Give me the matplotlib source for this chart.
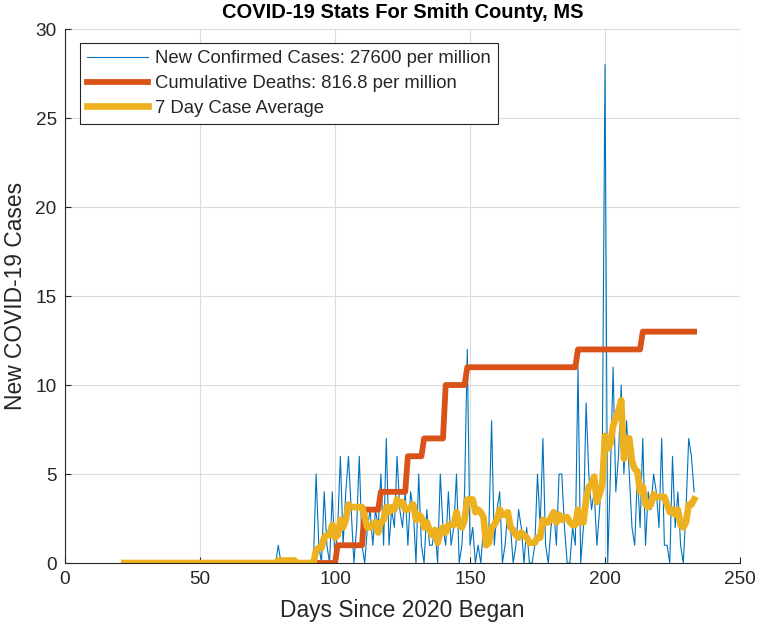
import numpy as np
import pandas as pd
import matplotlib
matplotlib.use('Agg')
import matplotlib.pyplot as plt

####################################################################################################
# DATA
####################################################################################################

first_day = 22

# daily new cases, one value per day from first_day on
new_cases = ([0] * 57 + [1] + [0] * 13 +
             [5, 1, 0, 4, 1, 0, 4, 0, 2, 6,          # days 93-102
              1, 4, 6, 3, 0, 2, 6, 1, 0, 2,          # 103-112
              3, 1, 3, 2, 5, 1, 7, 1, 3, 2,          # 113-122
              6, 3, 2, 4, 1, 4, 3, 0, 5, 1,          # 123-132
              0, 3, 1, 1, 2, 0, 5, 2, 1, 4,          # 133-142
              1, 2, 5, 0, 1, 4, 12, 1, 2, 0,         # 143-152
              1, 0, 2, 1, 2, 8, 1, 3, 4, 0,          # 153-162
              1, 3, 2, 0, 1, 3, 2, 0, 2, 0,          # 163-172
              0, 1, 5, 2, 7, 1, 0, 2, 3, 1,          # 173-182
              5, 5, 2, 0, 0, 2, 1, 11, 0, 2,         # 183-192
              9, 5, 3, 4, 1, 3, 6, 28, 0, 5,         # 193-202
              11, 4, 6, 10, 5, 8, 5, 2, 1, 5,        # 203-212
              2, 7, 1, 4, 3, 5, 4, 2, 7, 1,          # 213-222
              1, 0, 6, 2, 4, 1, 0, 3, 7, 6,          # 223-232
              4])                                    # 233

# cumulative deaths: day the total changes, and the new total
death_days = [101, 111, 117, 127, 133, 141, 149, 190, 214]
death_totals = [1, 3, 4, 6, 7, 10, 11, 12, 13]

cases_per_million = 27600
deaths_per_million = 816.8

####################################################################################################

days = np.arange(first_day, first_day + len(new_cases))
cases = pd.Series(new_cases, index=days, dtype=float)
average = cases.rolling(7, min_periods=1).mean()

deaths = np.zeros(len(days))
for d, total in zip(death_days, death_totals):
    deaths[days >= d] = total

plt.rcParams['font.family'] = ['Liberation Sans', 'DejaVu Sans']
text_color = '#262626'

fig = plt.figure(figsize=(7.61, 6.30), dpi=100)
ax = fig.add_axes([0.0854, 0.1063, 0.8870, 0.8476])

ax.plot(days, cases.values, color='#0072BD', linewidth=0.8,
        label='New Confirmed Cases: %d per million' % cases_per_million)
ax.plot(days, deaths, color='#D95319', linewidth=4.2,
        label='Cumulative Deaths: %.1f per million' % deaths_per_million)
ax.plot(days, average.values, color='#EDB120', linewidth=4.8,
        label='7 Day Case Average')

ax.set_xlim(0, 250)
ax.set_ylim(0, 30)
ax.set_xticks([0, 50, 100, 150, 200, 250])
ax.set_yticks([0, 5, 10, 15, 20, 25, 30])
ax.grid(True, color='#DCDCDC', linewidth=0.8)
ax.set_axisbelow(True)
for side in ('top', 'right'):
    ax.spines[side].set_visible(False)
for side in ('left', 'bottom'):
    ax.spines[side].set_color(text_color)
    ax.spines[side].set_linewidth(0.8)
ax.tick_params(direction='in', length=4, labelsize=13.7, colors=text_color,
               width=0.8, pad=6)

ax.set_title('COVID-19 Stats For Smith County, MS', fontsize=14.5,
             fontweight='bold', color='black', pad=8)
ax.set_xlabel('Days Since 2020 Began', fontsize=16.4, color=text_color, labelpad=8)
ax.set_ylabel('New COVID-19 Cases', fontsize=16.4, color=text_color, labelpad=6)

leg = ax.legend(loc='upper left', bbox_to_anchor=(0.022, 0.974), fontsize=13.3,
                handlelength=3.3, handletextpad=0.35, labelspacing=0.42,
                borderpad=0.4, borderaxespad=0, fancybox=False, framealpha=1)
leg.get_frame().set_edgecolor(text_color)
leg.get_frame().set_linewidth(0.8)
for t in leg.get_texts():
    t.set_color(text_color)

fig.savefig('out.png', dpi=100)
